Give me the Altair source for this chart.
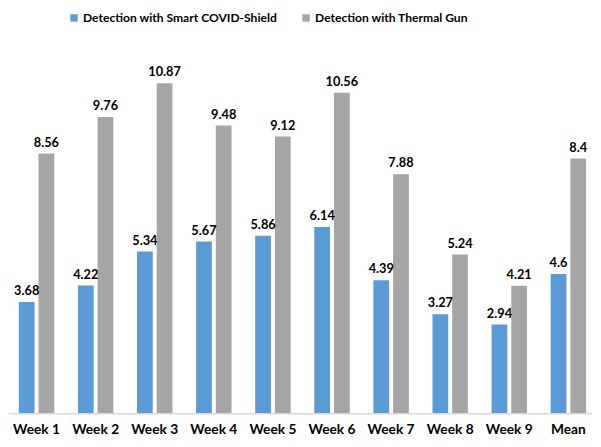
import altair as alt
import pandas as pd

weeks = ["Week 1", "Week 2", "Week 3", "Week 4", "Week 5", "Week 6", "Week 7", "Week 8", "Week 9", "Mean"]
series_names = ["Detection with Smart COVID-Shield", "Detection with Thermal Gun"]
covid_shield = [3.68, 4.22, 5.34, 5.67, 5.86, 6.14, 4.39, 3.27, 2.94, 4.6]
thermal_gun = [8.56, 9.76, 10.87, 9.48, 9.12, 10.56, 7.88, 5.24, 4.21, 8.4]
covid_labels = ["3.68", "4.22", "5.34", "5.67", "5.86", "6.14", "4.39", "3.27", "2.94", "4.6"]
thermal_labels = ["8.56", "9.76", "10.87", "9.48", "9.12", "10.56", "7.88", "5.24", "4.21", "8.4"]
colors = ["#5B9BD5", "#A5A5A5"]

rows = []
for i, w in enumerate(weeks):
    rows.append({"week": w, "series": series_names[0], "value": covid_shield[i], "label": covid_labels[i]})
    rows.append({"week": w, "series": series_names[1], "value": thermal_gun[i], "label": thermal_labels[i]})
df = pd.DataFrame(rows)

FONT = "Lato"

x_enc = alt.X("week:N", sort=weeks, title=None,
              scale=alt.Scale(paddingInner=0.4, paddingOuter=0.133, align=0.625),
              axis=alt.Axis(labelAngle=0, domain=False, ticks=False, grid=False,
                            labelFontWeight="bold", labelFontSize=14, labelColor="#000000",
                            labelFont=FONT, labelPadding=9))
xoff = alt.XOffset("series:N", sort=series_names, scale=alt.Scale(paddingInner=0.2, paddingOuter=0))
y_enc = alt.Y("value:Q", scale=alt.Scale(domain=[0, 12], nice=False), axis=None)

base = alt.Chart(df)

bars = base.mark_bar().encode(
    x=x_enc,
    xOffset=xoff,
    y=y_enc,
    color=alt.Color("series:N", sort=series_names,
                    scale=alt.Scale(domain=series_names, range=colors),
                    legend=alt.Legend(title=None, orient="none", legendX=60, legendY=-38,
                                      direction="horizontal", symbolType="square", symbolSize=56,
                                      labelFontSize=12.3, labelFontWeight="bold", labelFont=FONT,
                                      labelColor="#000000", columnPadding=23, symbolStrokeWidth=0,
                                      labelOffset=3, labelLimit=0)),
)

texts = base.mark_text(baseline="bottom", dy=-4, fontSize=13, fontWeight="bold",
                       font=FONT, color="#000000").encode(
    x=x_enc,
    xOffset=xoff,
    y=y_enc,
    text="label:N",
)

baseline = alt.Chart(pd.DataFrame({"v": [0]})).mark_rule(color="#D9D9D9", strokeWidth=1.5).encode(
    y=alt.Y("v:Q", scale=alt.Scale(domain=[0, 12], nice=False), axis=None)
)

chart = alt.layer(bars, baseline, texts).properties(
    width=593, height=371, padding={"left": 0, "top": 0, "right": 0, "bottom": 0}
).configure_view(stroke=None)

chart.save("out.html", embed_options={"renderer": "svg", "actions": False})
